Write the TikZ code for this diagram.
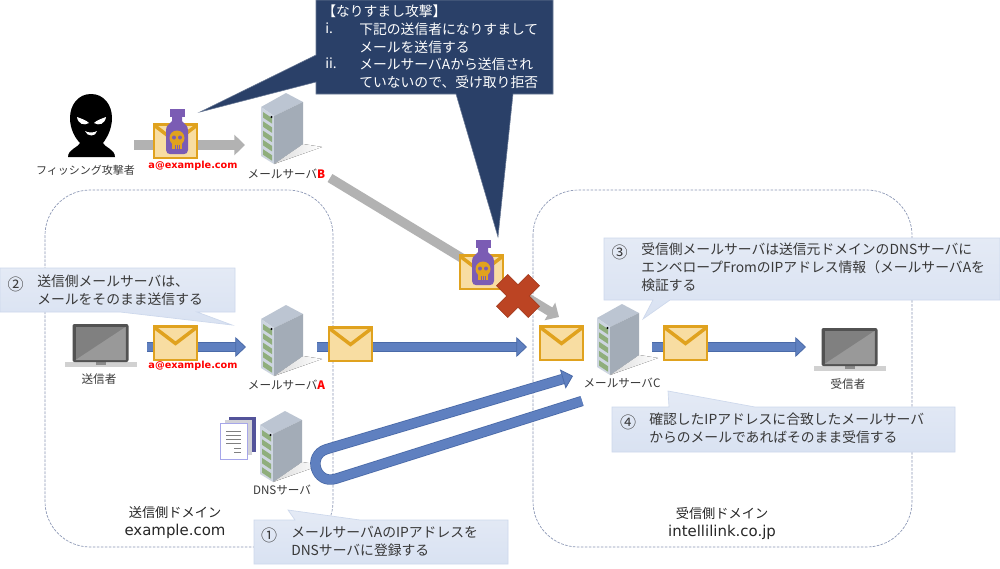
\documentclass[tikz,border=0pt]{standalone}
\usepackage{fontspec}
\setmainfont{Noto Sans CJK JP}
\newfontfamily\latinwide{DejaVu Sans}
\usetikzlibrary{arrows.meta}
\definecolor{txt}{HTML}{383838}
\definecolor{navy}{HTML}{2A4068}
\definecolor{noteTop}{HTML}{E4EAF5}
\definecolor{noteBot}{HTML}{D9E2F2}
\definecolor{noteEdge}{HTML}{CDD8EC}
\definecolor{flow}{HTML}{5F80C0}
\definecolor{flowEdge}{HTML}{4A6AA8}
\definecolor{spoof}{HTML}{B2B2B2}
\definecolor{gold}{HTML}{E0A21E}
\definecolor{paper}{HTML}{F8DDA2}
\definecolor{poisonPurple}{HTML}{7B5CB4}
\definecolor{crossRed}{HTML}{BC4423}
\definecolor{domainLine}{HTML}{8A96B4}
\definecolor{rackTop}{HTML}{BCC5D2}
\definecolor{rackFront}{HTML}{CDD5E0}
\definecolor{rackSide}{HTML}{A3ACB7}
\definecolor{rackSlot}{HTML}{8FAE7C}
\tikzset{
  iconbox/.style 2 args={inner sep=0pt,outer sep=0pt,minimum width=#1*0.75pt,minimum height=#2*0.75pt},
  caption/.style={inner sep=0pt,text=txt,font=\fontsize{8.7}{10.5}\selectfont},
  redmail/.style={inner sep=0pt,text=red,font=\latinwide\bfseries\fontsize{7.3}{9}\selectfont},
  domainbox/.style={draw=domainLine,line width=0.5pt,dash pattern=on 2pt off 1pt,rounded corners=34pt},
  domainname/.style={inner sep=0pt,text=black!85,align=center,font=\fontsize{9.9}{13.5}\selectfont},
  note/.style={draw=noteEdge,line width=0.5pt,top color=noteTop,bottom color=noteBot},
  notetext/.style={inner sep=0pt,anchor=north west,align=left,text=txt,font=\fontsize{10.35}{13.2}\selectfont},
  notenum/.style={inner sep=0pt,anchor=center,text=txt,font=\fontsize{12}{13.2}\selectfont},
  darktext/.style={inner sep=0pt,anchor=north west,align=left,text=white,font=\fontsize{10.35}{13.2}\selectfont},
  flowarrow/.style={draw=flowEdge,line width=0.6pt,double=flow,double distance=6.6pt,
    -{Triangle[length=8pt,width=15pt,fill=flow,line width=0.6pt]}},
  spoofarrow/.style={draw=spoof,line width=7pt,-{Triangle[length=8pt,width=15pt]}},
  server/.pic={
    \fill[left color=black!14,right color=white] (17,51) -- (-12,71) -- (36,54) -- cycle;
    \fill[rackTop] (0,0) -- (17,9) -- (-12,23) -- (-25,14) -- cycle;
    \fill[rackFront] (-25,14) -- (-12,23) -- (-12,71) -- (-25,63) -- cycle;
    \fill[rackSide] (-12,23) -- (17,9) -- (17,51) -- (-12,71) -- cycle;
    \foreach \i in {0,1,2,3,4}
      \fill[rackSlot] (-23,{19+9.3*\i}) -- (-14,{25+9.3*\i}) -- (-14,{30.5+9.3*\i}) -- (-23,{24.5+9.3*\i}) -- cycle;
    \fill[black] (-14.5,24) circle[radius=1.2];
  },
  envelope/.pic={
    \fill[paper,draw=gold,line width=1.1pt] (0,0) rectangle (43,34);
    \draw[gold,line width=2.6pt,line join=miter] (0.5,1.5) -- (21.5,17.5) -- (42.5,1.5);
    \draw[gold,line width=2.2pt] (0,0.6) -- (43,0.6);
  },
  poison/.pic={
    \fill[poisonPurple] (15.5,-15) rectangle (30.5,-7);
    \fill[poisonPurple] (18,-7) -- (28,-7) -- (28,-3) .. controls (30,0) and (34,1) .. (34,6)
       -- (34,26) .. controls (34,29) and (32,30) .. (30,30)
       -- (16,30) .. controls (14,30) and (12,29) .. (12,26)
       -- (12,6) .. controls (12,1) and (16,0) .. (18,-3) -- cycle;
    \fill[gold] (23,14) circle[radius=7.5];
    \fill[gold] (18,18) rectangle (28,25);
    \fill[poisonPurple] (20,13.5) circle[radius=2] (26,13.5) circle[radius=2];
    \draw[poisonPurple,line width=0.5pt] (21,21) -- (21,25) (23,21) -- (23,25) (25,21) -- (25,25);
  },
  laptop/.pic={
    \fill[black!18] (-36,38) rectangle (36,43);
    \fill[black!45] (-5,38) rectangle (5,41);
    \fill[black!68,rounded corners=1.5pt] (-28,0) rectangle (28,38);
    \fill[black!50] (-25,3) rectangle (25,36);
    \fill[black!40] (-25,36) -- (25,3) -- (25,36) -- cycle;
  },
  docs/.pic={
    \fill[black!20!blue!35!gray] (9,0) rectangle (36,35);
    \fill[blue!12!black!18] (5,3) rectangle (32,38);
    \fill[white,draw=black!25!blue!35,line width=0.4pt] (0,6) rectangle (27,42);
    \foreach \y in {14,18,22,26}
      \draw[black!50,line width=0.6pt] (6,\y) -- (21,\y);
    \draw[black!50,line width=0.6pt] (14,31) -- (21,31) (14,35) -- (21,35);
  },
  phisher/.pic={
    \fill[black] (91,94) .. controls (104,94) and (112,105) .. (112,118)
       .. controls (112,130) and (106,139) .. (103,143)
       .. controls (104,147) and (115,149) .. (115,157) -- (68,157)
       .. controls (68,149) and (79,147) .. (80,143)
       .. controls (76,139) and (70,130) .. (70,118)
       .. controls (70,105) and (78,94) .. (91,94) -- cycle;
    \fill[white] (77,117) .. controls (82,119) and (86,120) .. (89,123)
       .. controls (84,126) and (78,124) .. (77,117) -- cycle;
    \fill[white] (106,117) .. controls (101,119) and (97,120) .. (94,123)
       .. controls (99,126) and (105,124) .. (106,117) -- cycle;
    \fill[white] (85,131) .. controls (88,133) and (94,133) .. (97,131)
       .. controls (96,137) and (87,137) .. (85,131) -- cycle;
  },
}
\begin{document}
\begin{tikzpicture}[x=0.75pt,y=-0.75pt]
\useasboundingbox (0,0) rectangle (1000,568);
\fill[white] (0,0) rectangle (1000,568);

% Domain outlines
\draw[domainbox] (45,190) rectangle (333,547);
\draw[domainbox] (533,190) rectangle (912,547);

% Anchor boxes around the icons, used by the connectors
\node[iconbox={66}{100}] (attacker) at (101,145) {};
\node[iconbox={60}{100}] (serverB) at (275,145) {};
\node[iconbox={84}{60}] (sender) at (105,347) {};
\node[iconbox={71}{60}] (serverA) at (281.5,347) {};
\node[iconbox={69}{60}] (mailC) at (561.5,347) {};
\node[iconbox={56}{60}] (serverC) at (624,347) {};
\node[iconbox={86}{60}] (receiver) at (849,347) {};
\coordinate (spoofStart) at (330,178);
\coordinate (spoofEnd) at (559,317);
\coordinate (dnsLoopStart) at (582,401);
\coordinate (dnsLoopBendA) at (335.6,478.8);
\coordinate (dnsLoopBendB) at (326.4,449.2);
\coordinate (dnsLoopEnd) at (573,376);

% The DNS server sits under its loop
\pic at (285,411) {server};

% Connectors
\draw[spoofarrow] (attacker.east) -- (serverB.west);
\draw[spoofarrow] (spoofStart) -- (spoofEnd);
\draw[flowarrow] (sender.east) -- (serverA.west);
\draw[flowarrow] (serverA.east) -- (mailC.west);
\draw[flowarrow] (serverC.east) -- (receiver.west);
\draw[flowarrow] (dnsLoopStart) -- (dnsLoopBendA) .. controls (315.8,484.9) and (306.6,455.4) .. (dnsLoopBendB) -- (dnsLoopEnd);

% Icons
\pic at (0,0) {phisher};
\pic at (286,93) {server};
\pic at (286,305) {server};
\pic at (622,304) {server};
\pic at (100.5,324) {laptop};
\pic at (849.5,328) {laptop};
\pic at (220,417) {docs};
\pic at (154,124) {envelope};
\pic at (154,124) {poison};
\pic at (460,255) {envelope};
\pic at (460,255) {poison};
\pic at (154,326) {envelope};
\pic at (329,327) {envelope};
\pic at (540,326) {envelope};
\pic at (664,326) {envelope};

% Blocked delivery mark
\begin{scope}[shift={(518,296)},rotate=45]
  \fill[crossRed,draw=crossRed!85!black,line width=0.4pt] (-8,-22.5) -- (8,-22.5) -- (8,-8) -- (22.5,-8) -- (22.5,8) -- (8,8) -- (8,22.5) -- (-8,22.5) -- (-8,8) -- (-22.5,8) -- (-22.5,-8) -- (-8,-8) -- cycle;
\end{scope}

% Icon captions
\node[caption,font=\fontsize{8.25}{10.5}\selectfont] (capAttacker) at (85.5,170) {フィッシング攻撃者};
\node[redmail] (capSpoofAddr) at (193,166) {a@example.com};
\node[caption] (capB) at (286.5,174) {メールサーバ\textcolor{red}{\bfseries B}};
\node[caption] (capSender) at (99,379) {送信者};
\node[redmail] (capSendAddr) at (193,366) {a@example.com};
\node[caption] (capA) at (286.5,385) {メールサーバ\textcolor{red}{\bfseries A}};
\node[caption] (capC) at (622,383) {メールサーバC};
\node[caption] (capReceiver) at (848,384) {受信者};
\node[caption] (capDNS) at (282,490) {DNSサーバ};
\node[domainname] (domSend) at (175,523) {送信側ドメイン\\{\latinwide\fontsize{11.2}{13.5}\selectfont example.com}};
\node[domainname] (domRecv) at (722,523) {受信側ドメイン\\{\latinwide\fontsize{11.2}{13.5}\selectfont intellilink.co.jp}};

% Callouts
\path[note] (0,268) -- (235,268) -- (235,312) -- (197,312) -- (232,325) -- (120,312) -- (0,312) -- cycle;
\node[notenum] (n2a) at (15.5,284) {②};
\node[notetext] (n2b) at (37,275) {送信側メールサーバは、\\メールをそのまま送信する};

\path[note] (604,238) -- (1000,238) -- (1000,300) -- (670,300) -- (643,319) -- (653,300) -- (604,300) -- cycle;
\node[notenum] (n3a) at (619.5,252) {③};
\node[notetext] (n3b) at (641,243) {受信側メールサーバは送信元ドメインのDNSサーバに\\エンベロープFromのIPアドレス情報（メールサーバAを\\検証する};

\path[note] (612,407) -- (669,407) -- (668,391) -- (755,407) -- (955,407) -- (955,452) -- (612,452) -- cycle;
\node[notenum] (n4a) at (628,422) {④};
\node[notetext] (n4b) at (649,413) {確認したIPアドレスに合致したメールサーバ\\からのメールであればそのまま受信する};

\path[note] (254,520) -- (295,520) -- (288,510) -- (360,520) -- (508,520) -- (508,564) -- (254,564) -- cycle;
\node[notenum] (n1a) at (269,535) {①};
\node[notetext] (n1b) at (291,526) {メールサーバAのIPアドレスを\\DNSサーバに登録する};

\path[fill=navy,draw=navy!70!white,line width=0.4pt] (316,0) -- (553,0) -- (553,94) -- (513,94) -- (498,237) -- (456,94) -- (316,94) -- (316,82) -- (200,112) -- (316,55) -- cycle;
\node[darktext] (attackTitle) at (322,5) {【なりすまし攻撃】};
\node[darktext] (attackNo1) at (325,23) {i.};
\node[darktext] (attackItem1) at (359,23) {下記の送信者になりすまして\\メールを送信する};
\node[darktext] (attackNo2) at (325,58) {ii.};
\node[darktext] (attackItem2) at (359,58) {メールサーバAから送信され\\ていないので、受け取り拒否};
\end{tikzpicture}
\end{document}
